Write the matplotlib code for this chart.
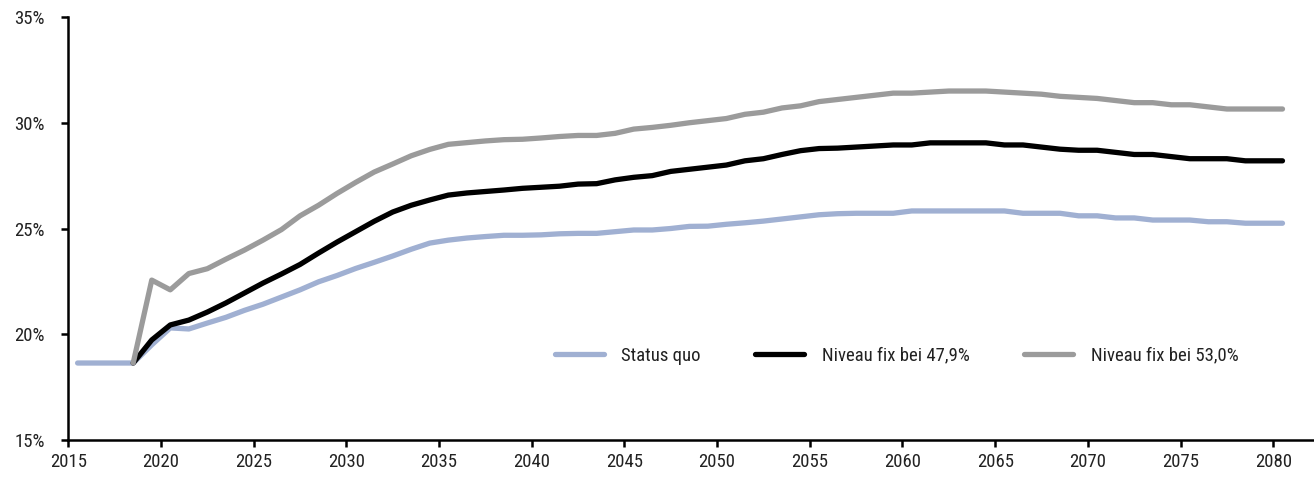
import numpy as np
import matplotlib
matplotlib.use("Agg")
import matplotlib.pyplot as plt
from matplotlib import font_manager

# look for a narrow sans like the original; otherwise liberation sans
names = {f.name for f in font_manager.fontManager.ttflist}
narrow = [n for n in ["Liberation Sans Narrow", "DejaVu Sans Condensed",
                      "Roboto Condensed", "Open Sans Condensed"] if n in names]
plt.rcParams['font.family'] = narrow + ['Liberation Sans', 'DejaVu Sans']

years = np.arange(2015, 2081)

# status quo, from 2015
status_quo = [
    18.64, 18.64, 18.64, 18.64, 19.5, 20.3, 20.25, 20.53, 20.8, 21.13,
    21.42, 21.76, 22.1, 22.48, 22.78, 23.11, 23.4, 23.7, 24.02, 24.31,
    24.45, 24.55, 24.62, 24.68, 24.68, 24.7, 24.75, 24.77, 24.77, 24.85,
    24.93, 24.93, 25.0, 25.1, 25.11, 25.2, 25.27, 25.35, 25.45, 25.55,
    25.65, 25.7, 25.72, 25.72, 25.72, 25.83, 25.83, 25.83, 25.83, 25.83,
    25.83, 25.72, 25.72, 25.72, 25.6, 25.6, 25.5, 25.5, 25.4, 25.4,
    25.4, 25.32, 25.32, 25.25, 25.25, 25.25,
]

# niveau fix 47,9% - starts 2018
fix_479 = [
    18.64, 19.73, 20.44, 20.67, 21.05, 21.48, 21.95, 22.42, 22.85, 23.3,
    23.84, 24.36, 24.85, 25.34, 25.78, 26.1, 26.35, 26.58, 26.68, 26.75,
    26.82, 26.9, 26.95, 27.0, 27.1, 27.12, 27.3, 27.42, 27.5, 27.7,
    27.8, 27.9, 28.0, 28.2, 28.3, 28.5, 28.68, 28.78, 28.8, 28.85,
    28.9, 28.95, 28.95, 29.05, 29.05, 29.05, 29.05, 28.95, 28.95, 28.85,
    28.75, 28.7, 28.7, 28.6, 28.5, 28.5, 28.4, 28.3, 28.3, 28.3,
    28.2, 28.2, 28.2,
]

# niveau fix 53,0% - starts 2018
fix_530 = [
    18.64, 22.56, 22.1, 22.87, 23.1, 23.55, 23.98, 24.45, 24.95, 25.6,
    26.1, 26.66, 27.18, 27.67, 28.05, 28.44, 28.74, 28.98, 29.06, 29.14,
    29.2, 29.22, 29.28, 29.35, 29.4, 29.4, 29.5, 29.7, 29.78, 29.88,
    30.0, 30.1, 30.2, 30.4, 30.5, 30.7, 30.8, 31.0, 31.1, 31.2,
    31.3, 31.4, 31.4, 31.45, 31.5, 31.5, 31.5, 31.45, 31.4, 31.35,
    31.25, 31.2, 31.15, 31.05, 30.95, 30.95, 30.85, 30.85, 30.75, 30.65,
    30.65, 30.65, 30.65,
]

labels = ["Status quo", "Niveau fix bei 47,9%", "Niveau fix bei 53,0%"]
colors = ["#a0b0d2", "#000000", "#9b9b9b"]

fsize = 13.5 if narrow else 11

fig = plt.figure(figsize=(13.14, 4.79), dpi=100)
ax = fig.add_axes([0.052, 0.0814, 0.948, 0.8831])

# excel category axis: points sit in the middle of each year slot
ax.plot(years + 0.5, status_quo, color=colors[0], lw=3.8,
        solid_capstyle="round", solid_joinstyle="round", label=labels[0])
ax.plot(years[3:] + 0.5, fix_479, color=colors[1], lw=3.8,
        solid_capstyle="round", solid_joinstyle="round", label=labels[1])
ax.plot(years[3:] + 0.5, fix_530, color=colors[2], lw=3.8,
        solid_capstyle="round", solid_joinstyle="round", label=labels[2])

ax.set_xlim(2015, 2082.2)
ax.set_ylim(15, 35)
ax.set_xticks(np.arange(2015, 2081, 5))
ax.set_yticks(np.arange(15, 36, 5))
ax.set_yticklabels([f"{v}%" for v in range(15, 36, 5)])

for s in ["top", "right"]:
    ax.spines[s].set_visible(False)
for s in ["left", "bottom"]:
    ax.spines[s].set_linewidth(1.8)
ax.tick_params(axis="both", direction="out", length=5, width=1.8,
               labelsize=fsize, colors="#000000", labelcolor="#222222")
ax.tick_params(axis="x", pad=4)
ax.tick_params(axis="y", pad=12)

ax.legend(loc="center", bbox_to_anchor=(0.665, 0.199), ncol=3, frameon=False,
          fontsize=fsize, handlelength=2.6, handletextpad=0.95,
          columnspacing=2.9, labelcolor="#222222")

fig.savefig("out.png", dpi=100)
